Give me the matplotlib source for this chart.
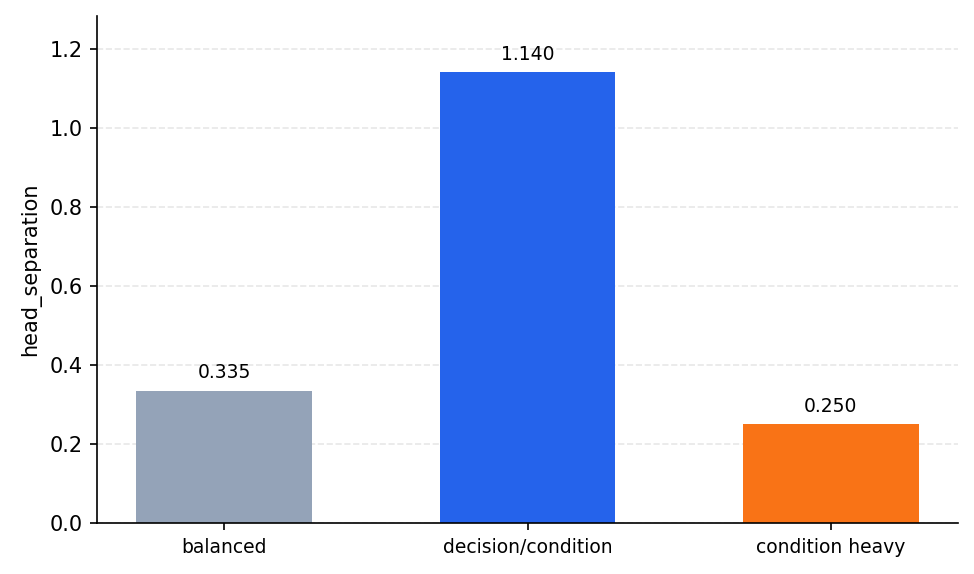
import matplotlib
matplotlib.use("Agg")
import matplotlib.pyplot as plt

# ----- ----- DATA ----- -----
categories = ["balanced", "decision/condition", "condition heavy"]
values = [0.335, 1.140, 0.250]
colors = ["#94a3b8", "#2563eb", "#f97316"]

# ----- ----- PLOT ----- -----
fig, ax = plt.subplots(figsize=(974 / 150, 574 / 150), dpi=150)
x = range(len(categories))
bars = ax.bar(x, values, width=0.58, color=colors, zorder=2)

for b, v in zip(bars, values):
    ax.annotate(f"{v:.3f}", (b.get_x() + b.get_width() / 2, v),
                xytext=(0, 4), textcoords="offset points",
                ha="center", va="bottom", fontsize=9)

ax.set_xticks(list(x))
ax.set_xticklabels(categories, fontsize=9)
ax.set_ylabel("head_separation")
ax.set_ylim(0, max(values) * 1.125)
ax.grid(axis="y", linestyle="--", alpha=0.3, zorder=0)
ax.spines["top"].set_visible(False)
ax.spines["right"].set_visible(False)

fig.subplots_adjust(left=97 / 974, right=958 / 974, top=1 - 16 / 574, bottom=1 - 523 / 574)
fig.savefig("out.png", dpi=150)
